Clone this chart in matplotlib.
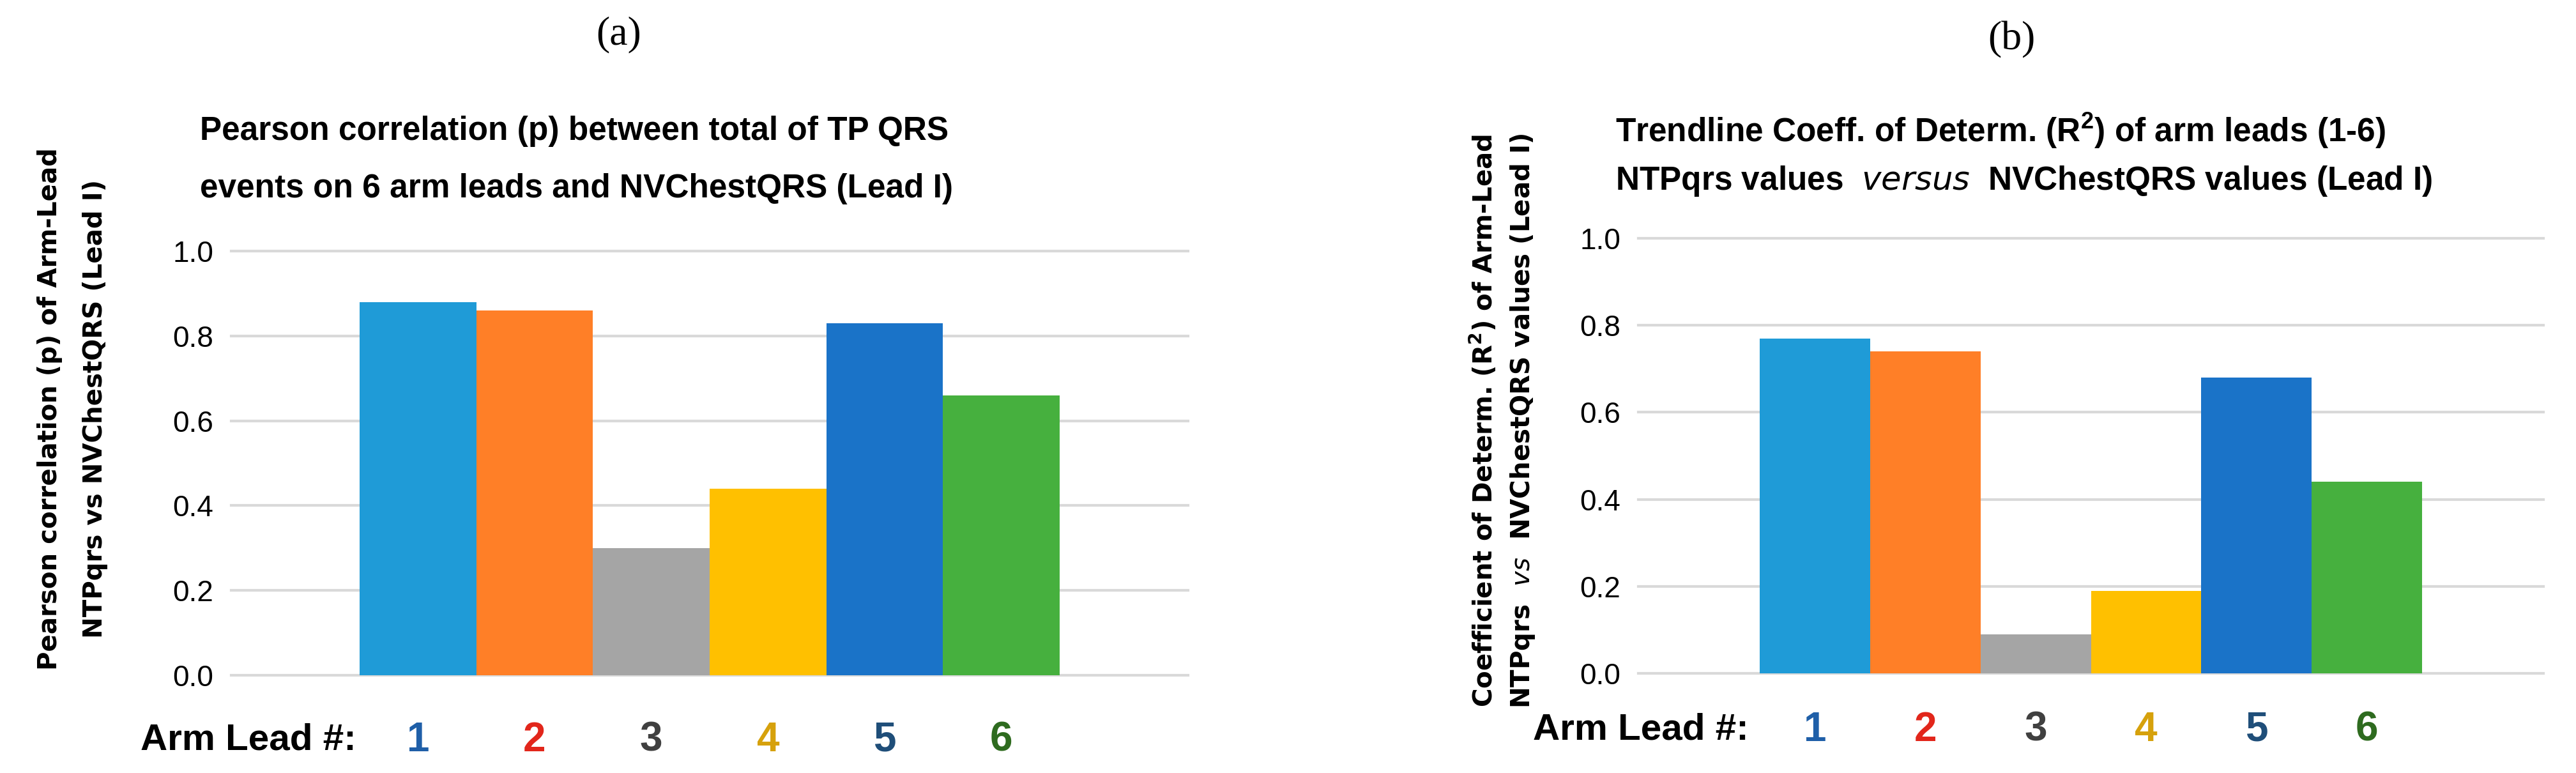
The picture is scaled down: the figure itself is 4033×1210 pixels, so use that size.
import matplotlib
matplotlib.use("Agg")
import matplotlib.pyplot as plt
import matplotlib.transforms as mtrans

leads = ["1", "2", "3", "4", "5", "6"]
pearson = [0.88, 0.86, 0.30, 0.44, 0.83, 0.66]
r2 = [0.77, 0.74, 0.09, 0.19, 0.68, 0.44]
yticks = [0.0, 0.2, 0.4, 0.6, 0.8, 1.0]
bar_colors = ["#1F9BD7", "#FF7F27", "#A5A5A5", "#FFC000", "#1A73C8", "#46B03E"]
num_colors = ["#1F5FA8", "#E2261B", "#404040", "#D6A10C", "#1F4E79", "#2E6B1F"]

fam = ["Liberation Sans", "DejaVu Sans"]

W, H = 4033, 1210
fig = plt.figure(figsize=(W / 100, H / 100), dpi=100)

def fx(px): return px / W
def fy(py): return 1 - py / H

def panel(x0, x1, y0, y1, vals, title_lines, ylabel_lines, ylab_x, ylab_y, tag, tag_xy, arm_xy):
    ax = fig.add_axes([fx(x0), fy(y0), fx(x1) - fx(x0), fy(y1) - fy(y0)])
    x = list(range(len(vals)))
    ax.bar(x, vals, width=1.0, color=bar_colors, zorder=3)
    ax.set_xlim(-1.6, 6.6)
    ax.set_ylim(0, 1.0)
    ax.set_yticks(yticks)
    ax.set_yticklabels([f"{v:.1f}" for v in yticks], family=fam, fontsize=33)
    ax.tick_params(axis="y", length=0, pad=20)
    ax.set_xticks([])
    for s in ax.spines.values():
        s.set_visible(False)
    ax.grid(axis="y", color="#D9D9D9", lw=3, zorder=0)
    for gl in ax.get_ygridlines():
        gl.set_clip_on(False)
    tr = mtrans.blended_transform_factory(ax.transData, fig.transFigure)
    for i, (lab, c) in enumerate(zip(leads, num_colors)):
        ax.text(i, fy(arm_xy[1]), lab, transform=tr, color=c,
                fontsize=46, fontweight="bold", family=fam, ha="center", va="center")
    fig.text(fx(arm_xy[0]), fy(arm_xy[1]), "Arm Lead #:", fontsize=42, fontweight="bold",
             family=fam, ha="left", va="center")
    for line in title_lines:
        fig.text(fx(line[0]), fy(line[1]), line[2], fontsize=37, fontweight="bold", family=fam,
                 ha="left", va="center")
    for xx, txt in zip(ylab_x, ylabel_lines):
        fig.text(fx(xx), fy(ylab_y), txt, rotation=90, fontsize=29, fontweight="bold",
                 family=["DejaVu Sans"], ha="center", va="center")
    fig.text(fx(tag_xy[0]), fy(tag_xy[1]), tag, fontsize=46, family=["Liberation Serif", "DejaVu Serif"],
             ha="center", va="center")
    return ax

panel(362, 1860, 1057, 393, pearson,
      [(313, 205, "Pearson correlation (p) between total of TP QRS"),
       (313, 295, "events on 6 arm leads and NVChestQRS (Lead I)")],
      ["Pearson correlation (p) of Arm-Lead", "NTPqrs vs NVChestQRS (Lead I)"],
      [78, 149], 640, "(a)", (969, 54), (220, 1159))

panel(2565, 3982, 1054, 373, r2,
      [(2529, 205, r"Trendline Coeff. of Determ. (R$^\mathregular{2}$) of arm leads (1-6)"),
       (2529, 283, r"NTPqrs values  $\mathit{versus}$  NVChestQRS values (Lead I)")],
      [r"Coefficient of Determ. (R$^\mathregular{2}$) of Arm-Lead",
       r"NTPqrs  $\mathit{vs}$  NVChestQRS values (Lead I)"],
      [2322, 2384], 659, "(b)", (3149, 62), (2400, 1143))

fig.savefig("out.png", dpi=100)
